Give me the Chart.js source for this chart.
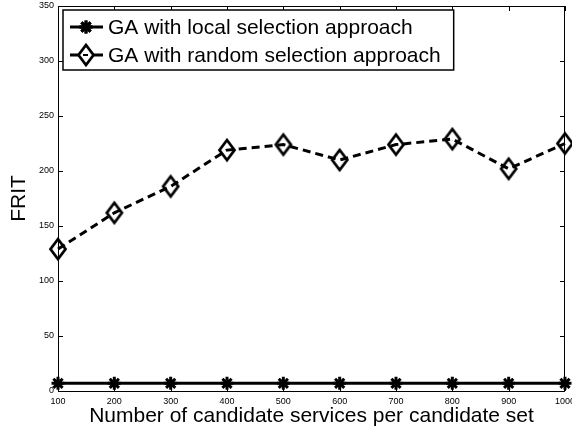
<!DOCTYPE html>
<html>
<head>
<meta charset="utf-8">
<script src="https://cdn.jsdelivr.net/npm/chart.js@4.4.1/dist/chart.umd.min.js"></script>
<style>
  html, body { margin: 0; padding: 0; background: #fff; }
  #wrap { width: 572px; height: 432px; }
</style>
</head>
<body>
<div id="wrap"><canvas id="myChart" width="572" height="432"></canvas></div>
<script>
const serviceCounts = [100, 200, 300, 400, 500, 600, 700, 800, 900, 1000];
const localFrit = [7, 7, 7, 7, 7, 7, 7, 7, 7, 7];
const randomFrit = [129, 162, 186, 219, 224, 210, 224, 229, 202, 225];
const seriesNames = ['GA with local selection approach', 'GA with random selection approach'];
const yTicks = [0, 50, 100, 150, 200, 250, 300, 350];

const fontFamily = "'Liberation Sans', Arial, Helvetica, sans-serif";

// open diamond marker, a bit taller than wide
const diamond = document.createElement('canvas');
diamond.width = 24;
diamond.height = 30;
{
  const c = diamond.getContext('2d');
  c.strokeStyle = '#000';
  c.lineWidth = 2.8;
  c.lineJoin = 'miter';
  c.beginPath();
  c.moveTo(12, 5);
  c.lineTo(19.5, 15);
  c.lineTo(12, 25);
  c.lineTo(4.5, 15);
  c.closePath();
  c.stroke();
}

const toPoints = (ys) => serviceCounts.map((x, i) => ({ x: x, y: ys[i] }));

// box round the plot with inward ticks on all four sides
const framePlugin = {
  id: 'frame',
  beforeDatasetsDraw(chart) {
    const { ctx, chartArea: a, scales } = chart;
    ctx.save();
    ctx.strokeStyle = '#000';
    ctx.lineWidth = 1;
    ctx.strokeRect(a.left + 0.5, a.top + 0.5, a.right - a.left - 1, a.bottom - a.top);
    ctx.beginPath();
    scales.x.ticks.forEach(t => {
      const px = Math.round(scales.x.getPixelForValue(t.value)) + 0.5;
      ctx.moveTo(px, a.bottom); ctx.lineTo(px, a.bottom - 5);
      ctx.moveTo(px, a.top); ctx.lineTo(px, a.top + 5);
    });
    scales.y.ticks.forEach(t => {
      const py = Math.round(scales.y.getPixelForValue(t.value)) + 0.5;
      ctx.moveTo(a.left, py); ctx.lineTo(a.left + 5, py);
      ctx.moveTo(a.right, py); ctx.lineTo(a.right - 5, py);
    });
    ctx.stroke();
    ctx.restore();
  }
};

// legend box in the upper left corner of the plot
const legendPlugin = {
  id: 'boxLegend',
  afterDatasetsDraw(chart) {
    const { ctx, chartArea: a } = chart;
    const x0 = a.left + 5, y0 = a.top + 4;
    const rowH = 28;
    ctx.save();
    ctx.font = '21px ' + fontFamily;
    const textW = Math.max(...seriesNames.map(s => ctx.measureText(s).width));
    const w = 45 + textW + 13;
    const h = 60;
    ctx.fillStyle = '#fff';
    ctx.fillRect(x0, y0, w, h);
    ctx.strokeStyle = '#000';
    ctx.lineWidth = 1.5;
    ctx.strokeRect(x0, y0, w, h);
    chart.data.datasets.forEach((ds, i) => {
      const cy = y0 + 17 + i * rowH;
      ctx.strokeStyle = '#000';
      ctx.lineWidth = 3;
      ctx.setLineDash([]);
      ctx.beginPath();
      ctx.moveTo(x0 + 7, cy);
      ctx.lineTo(x0 + 40, cy);
      ctx.stroke();
      if (ds.pointStyle === 'star') {
        Chart.helpers.drawPoint(ctx, { pointStyle: 'star', radius: 6.5, borderWidth: 3, rotation: 0 }, x0 + 23, cy);
        ctx.stroke();
      } else {
        ctx.fillStyle = '#fff';
        ctx.beginPath();
        ctx.moveTo(x0 + 23, cy - 10);
        ctx.lineTo(x0 + 30.5, cy);
        ctx.lineTo(x0 + 23, cy + 10);
        ctx.lineTo(x0 + 15.5, cy);
        ctx.closePath();
        ctx.fill();
        ctx.drawImage(diamond, x0 + 23 - 12, cy - 15);
        ctx.fillStyle = '#000';
        ctx.fillRect(x0 + 20, cy - 1, 5, 2);
      }
      ctx.fillStyle = '#000';
      ctx.textBaseline = 'middle';
      ctx.textAlign = 'left';
      ctx.fillText(seriesNames[i], x0 + 45, cy + 1);
    });
    ctx.restore();
  }
};

const ctx = document.getElementById('myChart');

const myChart = new Chart(ctx, {
  type: 'line',
  data: {
    datasets: [
      {
        label: seriesNames[0],
        data: toPoints(localFrit),
        borderColor: '#000',
        borderWidth: 3,
        pointStyle: 'star',
        pointRadius: 6.5,
        pointBorderWidth: 3,
        pointBorderColor: '#000',
        pointBackgroundColor: '#000',
        tension: 0,
        clip: false
      },
      {
        label: seriesNames[1],
        data: toPoints(randomFrit),
        borderColor: '#000',
        borderWidth: 3,
        borderDash: [8, 5],
        pointStyle: diamond,
        pointRadius: 10,
        tension: 0,
        clip: false
      }
    ]
  },
  options: {
    responsive: false,
    animation: false,
    devicePixelRatio: 1,
    layout: { autoPadding: false, padding: { top: 6, right: 7, left: 0, bottom: 0 } },
    plugins: {
      legend: { display: false },
      tooltip: { enabled: false }
    },
    scales: {
      x: {
        type: 'linear',
        min: 100,
        max: 1000,
        grid: { display: false, drawTicks: false },
        border: { display: false },
        ticks: {
          stepSize: 100,
          padding: 5,
          color: '#000',
          font: { family: fontFamily, size: 9 },
          maxRotation: 0,
          autoSkip: false,
          callback: (v) => String(v)
        },
        title: {
          display: true,
          text: 'Number of candidate services per candidate set',
          color: '#000',
          font: { family: fontFamily, size: 21 },
          padding: { top: 0, bottom: 3 }
        },
        afterFit(scale) {
          scale.height = 41;
          scale.paddingLeft = 0;
          scale.paddingRight = 0;
        }
      },
      y: {
        min: 0,
        max: 350,
        afterBuildTicks(scale) { scale.ticks = yTicks.map(v => ({ value: v })); },
        grid: { display: false, drawTicks: false },
        border: { display: false },
        ticks: {
          padding: 4,
          color: '#000',
          font: { family: fontFamily, size: 9 }
        },
        title: {
          display: true,
          text: 'FRIT',
          color: '#000',
          font: { family: fontFamily, size: 21 },
          padding: { top: 7, bottom: 0 }
        },
        afterFit(scale) {
          scale.width = 58;
          scale.paddingTop = 0;
          scale.paddingBottom = 0;
        }
      }
    }
  },
  plugins: [framePlugin, legendPlugin]
});
</script>
</body>
</html>
